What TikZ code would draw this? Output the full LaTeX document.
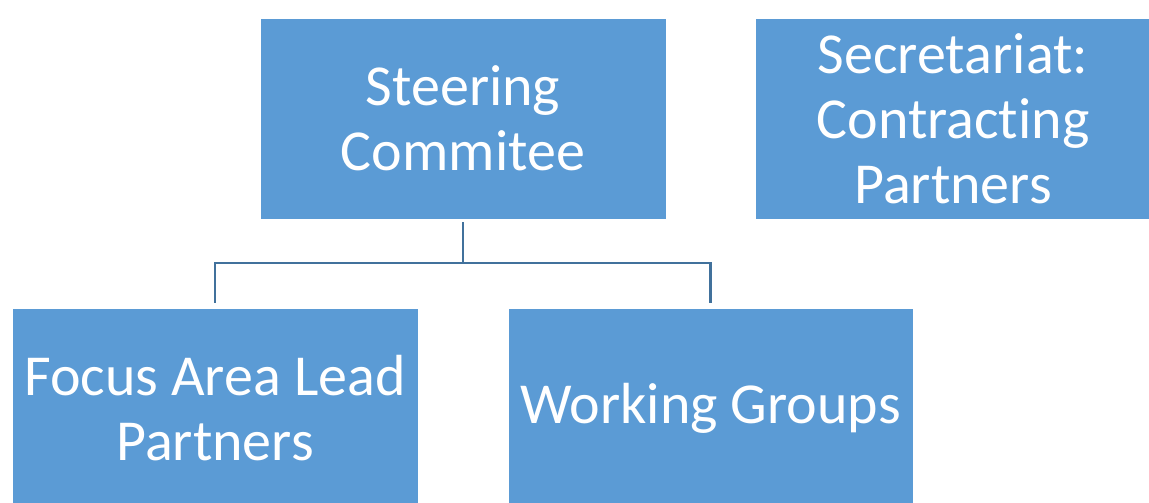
\documentclass[tikz,border=0pt]{standalone}
\usepackage{fontspec}
\setmainfont{Carlito}[Ligatures={NoCommon,NoDiscretionary}]
\definecolor{boxblue}{HTML}{5B9BD5}
\definecolor{lineblue}{HTML}{41719C}
\begin{document}
\begin{tikzpicture}[x=1pt,y=1pt,
  orgbox/.style={fill=boxblue, draw=white, line width=0.8pt, text=white,
    font=\fontsize{58}{65}\selectfont, align=center, inner sep=0pt},
  link/.style={draw=lineblue, line width=2.8pt, shorten <=3pt, shorten >=5pt}]
\useasboundingbox (0,0) rectangle (1149,-503);
\node[orgbox, minimum width=406pt, minimum height=201pt] (steer) at (463,-118.5) {Steering\\Commitee};
\node[orgbox, minimum width=396pt, minimum height=201pt] (sec) at (953,-118.5) {Secretariat:\\Contracting\\Partners};
\node[orgbox, minimum width=406pt, minimum height=200pt] (focus) at (215,-408) {Focus Area Lead\\Partners};
\node[orgbox, minimum width=405pt, minimum height=200pt] (work) at (710.5,-408) {Working Groups};
\coordinate (bus) at (463,-263);
\draw[link] (steer.south) -- (bus) -| (focus.north);
\draw[link] (steer.south) -- (bus) -| (work.north);
\end{tikzpicture}
\end{document}
